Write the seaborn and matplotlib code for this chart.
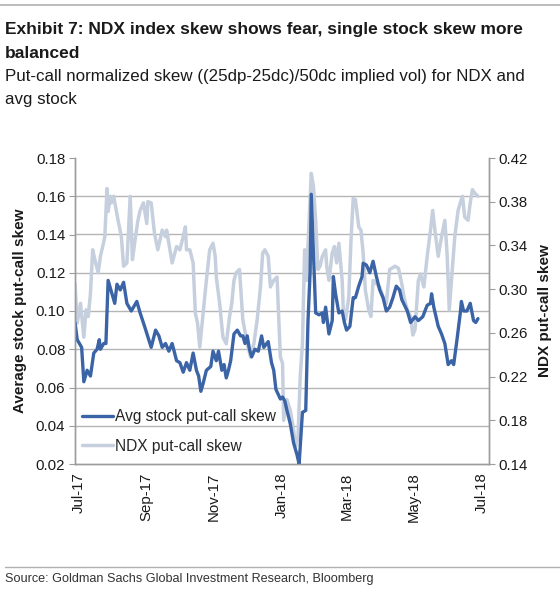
import pandas as pd
import matplotlib
matplotlib.use("Agg")
import matplotlib.pyplot as plt
import matplotlib.dates as mdates
from matplotlib.lines import Line2D
import seaborn as sns

start = pd.Timestamp("2017-06-28")

stock_days = [0, 2, 6, 8, 11, 14, 17, 20, 22, 23, 26, 28, 30, 32, 36, 38, 41, 44, 47, 51,
              56, 59, 63, 69, 73, 76, 79, 82, 85, 88, 92, 95, 98, 101, 104, 107, 110, 112, 114, 116,
              119, 123, 125, 128, 130, 133, 135, 137, 139, 141, 144, 147, 150, 152, 154, 156, 158, 160, 163, 166,
              169, 171, 175, 178, 180, 182, 186, 188, 190, 192, 195, 198, 201, 203, 204, 206, 209, 210, 211, 213,
              214, 216, 218, 221, 224, 225, 227, 230, 233, 234, 236, 239, 242, 244, 246, 249, 252, 254, 257, 260,
              261, 264, 267, 270, 273, 276, 279, 282, 285, 288, 291, 294, 296, 301, 304, 308, 311, 315, 319, 322,
              323, 325, 329, 332, 335, 338, 341, 343, 346, 349, 350, 352, 355, 358, 361, 363, 365]
stock_skew = [0.094, 0.085, 0.081, 0.063, 0.069, 0.066, 0.078, 0.080, 0.085, 0.080, 0.083, 0.083, 0.116, 0.112, 0.104, 0.114, 0.111, 0.115, 0.104, 0.100,
              0.105, 0.099, 0.092, 0.081, 0.090, 0.087, 0.081, 0.083, 0.079, 0.083, 0.074, 0.073, 0.068, 0.073, 0.069, 0.078, 0.069, 0.066, 0.058, 0.062,
              0.069, 0.071, 0.079, 0.074, 0.079, 0.069, 0.072, 0.065, 0.069, 0.074, 0.088, 0.090, 0.087, 0.087, 0.083, 0.087, 0.080, 0.076, 0.080, 0.079,
              0.087, 0.081, 0.084, 0.073, 0.069, 0.059, 0.054, 0.055, 0.053, 0.048, 0.041, 0.031, 0.025, 0.020, 0.029, 0.047, 0.048, 0.072, 0.094, 0.121,
              0.161, 0.130, 0.099, 0.098, 0.099, 0.094, 0.102, 0.088, 0.095, 0.118, 0.109, 0.099, 0.100, 0.094, 0.090, 0.092, 0.107, 0.107, 0.113, 0.118,
              0.125, 0.124, 0.120, 0.126, 0.118, 0.111, 0.107, 0.100, 0.102, 0.107, 0.113, 0.111, 0.106, 0.100, 0.094, 0.097, 0.095, 0.097, 0.103, 0.104,
              0.109, 0.102, 0.092, 0.088, 0.083, 0.072, 0.074, 0.072, 0.085, 0.099, 0.105, 0.100, 0.100, 0.104, 0.095, 0.094, 0.096]

ndx_days = [0, 2, 5, 8, 10, 12, 14, 16, 18, 21, 23, 26, 27, 29, 30, 32, 33, 35, 39, 42,
            44, 47, 50, 52, 54, 57, 59, 62, 65, 66, 69, 72, 75, 79, 82, 83, 88, 92, 95, 98,
            100, 101, 104, 107, 109, 111, 113, 116, 119, 122, 125, 127, 128, 131, 134, 137, 140, 142, 144, 146,
            149, 152, 156, 159, 162, 165, 168, 170, 172, 175, 177, 180, 183, 186, 188, 189, 192, 195, 198, 200,
            202, 204, 206, 208, 210, 211, 214, 216, 218, 220, 222, 224, 227, 228, 230, 233, 235, 237, 239, 242,
            243, 245, 248, 250, 252, 254, 257, 259, 261, 263, 266, 268, 270, 273, 276, 279, 282, 285, 290, 293,
            296, 298, 301, 304, 306, 308, 311, 313, 316, 319, 322, 324, 326, 329, 332, 335, 337, 339, 341, 344,
            347, 349, 351, 353, 356, 358, 360, 362, 365]
ndx_skew = [0.305, 0.269, 0.287, 0.256, 0.281, 0.275, 0.296, 0.336, 0.327, 0.315, 0.330, 0.343, 0.348, 0.392, 0.371, 0.385, 0.379, 0.385, 0.363, 0.348,
            0.321, 0.324, 0.385, 0.327, 0.342, 0.363, 0.372, 0.379, 0.360, 0.380, 0.379, 0.351, 0.336, 0.354, 0.348, 0.354, 0.324, 0.339, 0.336, 0.348,
            0.357, 0.336, 0.336, 0.324, 0.278, 0.269, 0.247, 0.278, 0.308, 0.336, 0.342, 0.330, 0.311, 0.287, 0.256, 0.250, 0.275, 0.287, 0.308, 0.315,
            0.318, 0.272, 0.250, 0.238, 0.250, 0.272, 0.302, 0.333, 0.336, 0.330, 0.302, 0.308, 0.311, 0.238, 0.232, 0.180, 0.199, 0.189, 0.171, 0.156,
            0.165, 0.220, 0.250, 0.336, 0.308, 0.339, 0.406, 0.394, 0.363, 0.318, 0.321, 0.330, 0.336, 0.321, 0.308, 0.333, 0.339, 0.324, 0.342, 0.308,
            0.281, 0.272, 0.293, 0.345, 0.383, 0.382, 0.357, 0.354, 0.333, 0.299, 0.281, 0.275, 0.308, 0.305, 0.302, 0.293, 0.287, 0.318, 0.321, 0.319,
            0.305, 0.293, 0.281, 0.275, 0.258, 0.263, 0.308, 0.314, 0.302, 0.330, 0.354, 0.372, 0.354, 0.330, 0.348, 0.363, 0.333, 0.281, 0.308, 0.348,
            0.372, 0.379, 0.385, 0.366, 0.363, 0.379, 0.391, 0.388, 0.385]

tick_dates = ["2017-07-01", "2017-09-01", "2017-11-01", "2018-01-01",
              "2018-03-01", "2018-05-01", "2018-07-01"]
left_ticks = [0.02, 0.04, 0.06, 0.08, 0.10, 0.12, 0.14, 0.16, 0.18]
right_ticks = [0.14, 0.18, 0.22, 0.26, 0.30, 0.34, 0.38, 0.42]

BLUE = "#3b64a6"
GREY = "#c6cfdd"
GRID = "#b5b5b5"
AXIS = "#9c9c9c"
TEXT = "#1a1a1a"

sns.set_style("white")
plt.rcParams["font.family"] = ["Liberation Sans", "DejaVu Sans"]
NARROW = ["Liberation Sans Narrow", "Liberation Sans", "DejaVu Sans"]

stock = pd.DataFrame({"date": start + pd.to_timedelta(stock_days, unit="D"),
                      "skew": stock_skew})
ndx = pd.DataFrame({"date": start + pd.to_timedelta(ndx_days, unit="D"),
                    "skew": ndx_skew})

W, H = 560, 589
fig = plt.figure(figsize=(W / 100, H / 100), dpi=100)
ax = fig.add_axes([75 / W, 1 - 464 / H, 414 / W, 306 / H])
ax2 = ax.twinx()

sns.lineplot(data=ndx, x="date", y="skew", ax=ax2, color=GREY, lw=2.5,
             label="NDX put-call skew")
sns.lineplot(data=stock, x="date", y="skew", ax=ax, color=BLUE, lw=2.4,
             label="Avg stock put-call skew")

# left axis on top so the blue line sits over the grey one
ax.set_zorder(ax2.get_zorder() + 1)
ax.patch.set_visible(False)

ax.set_ylim(0.02, 0.18)
ax.set_yticks(left_ticks)
ax.set_yticklabels([f"{v:.2f}" for v in left_ticks])
ax2.set_ylim(0.14, 0.42)
ax2.set_yticks(right_ticks)
ax2.set_yticklabels([f"{v:.2f}" for v in right_ticks])

# horizontal grid follows the left scale, drawn on the back axes
grid_pos = [0.14 + (v - 0.02) / 0.16 * 0.28 for v in left_ticks]
ax2.set_yticks(grid_pos, minor=True)
ax2.yaxis.grid(True, which="minor", color=GRID, lw=1.0)
ax2.tick_params(axis="y", which="minor", length=0)
ax.grid(False)

ax.set_xlim(pd.Timestamp("2017-06-28"), pd.Timestamp("2018-07-08"))
ax.set_xticks(pd.to_datetime(tick_dates))
ax.xaxis.set_major_formatter(mdates.DateFormatter("%b-%y"))
ax.tick_params(axis="x", rotation=90, length=0, labelsize=10.8, colors=TEXT, pad=6)
ax.tick_params(axis="y", length=4, color=AXIS, labelsize=10.8, labelcolor=TEXT, pad=3)
ax2.tick_params(axis="y", which="major", length=4, color=AXIS, labelsize=10.8,
                labelcolor=TEXT, pad=3)

ax.set_xlabel("")
ax.set_ylabel("Average stock put-call skew", fontsize=11, fontweight="bold",
              color=TEXT, labelpad=6)
ax2.set_ylabel("NDX put-call skew", fontsize=11, fontweight="bold", color=TEXT,
               labelpad=7)

for a in (ax, ax2):
    a.spines["top"].set_visible(False)
    for s in ("left", "right", "bottom"):
        a.spines[s].set_color(AXIS)
        a.spines[s].set_linewidth(1.0)

h1, l1 = ax.get_legend_handles_labels()
h2, l2 = ax2.get_legend_handles_labels()
ax2.get_legend().remove()
ax.legend(h1 + h2, l1 + l2, loc="lower left", bbox_to_anchor=(0.0, 0.01),
          frameon=False, fontsize=11.2, handlelength=2.0, handletextpad=0.1,
          labelspacing=0.95, borderaxespad=0.05)

# header, subtitle, source
fig.text(5 / W, 1 - 34 / H, "Exhibit 7: NDX index skew shows fear, single stock skew more",
         fontsize=12.5, fontweight="bold", family=NARROW, color=TEXT, va="baseline")
fig.text(5 / W, 1 - 58 / H, "balanced", fontsize=12.5, fontweight="bold",
         family=NARROW, color=TEXT, va="baseline")
fig.text(5 / W, 1 - 81 / H,
         "Put-call normalized skew ((25dp-25dc)/50dc implied vol) for NDX and",
         fontsize=12.2, family=NARROW, color=TEXT, va="baseline")
fig.text(5 / W, 1 - 104 / H, "avg stock", fontsize=12.2, family=NARROW,
         color=TEXT, va="baseline")
fig.text(5 / W, 1 - 582 / H,
         "Source: Goldman Sachs Global Investment Research, Bloomberg",
         fontsize=9.1, family=NARROW, color="#333333", va="baseline")

fig.add_artist(Line2D([0, 1], [1 - 5 / H, 1 - 5 / H], transform=fig.transFigure,
                      color="#b0b0b0", lw=1.2))
fig.add_artist(Line2D([5 / W, 1], [1 - 567 / H, 1 - 567 / H], transform=fig.transFigure,
                      color="#b0b0b0", lw=1.0))

fig.savefig("out.png", dpi=100)
plt.close(fig)
